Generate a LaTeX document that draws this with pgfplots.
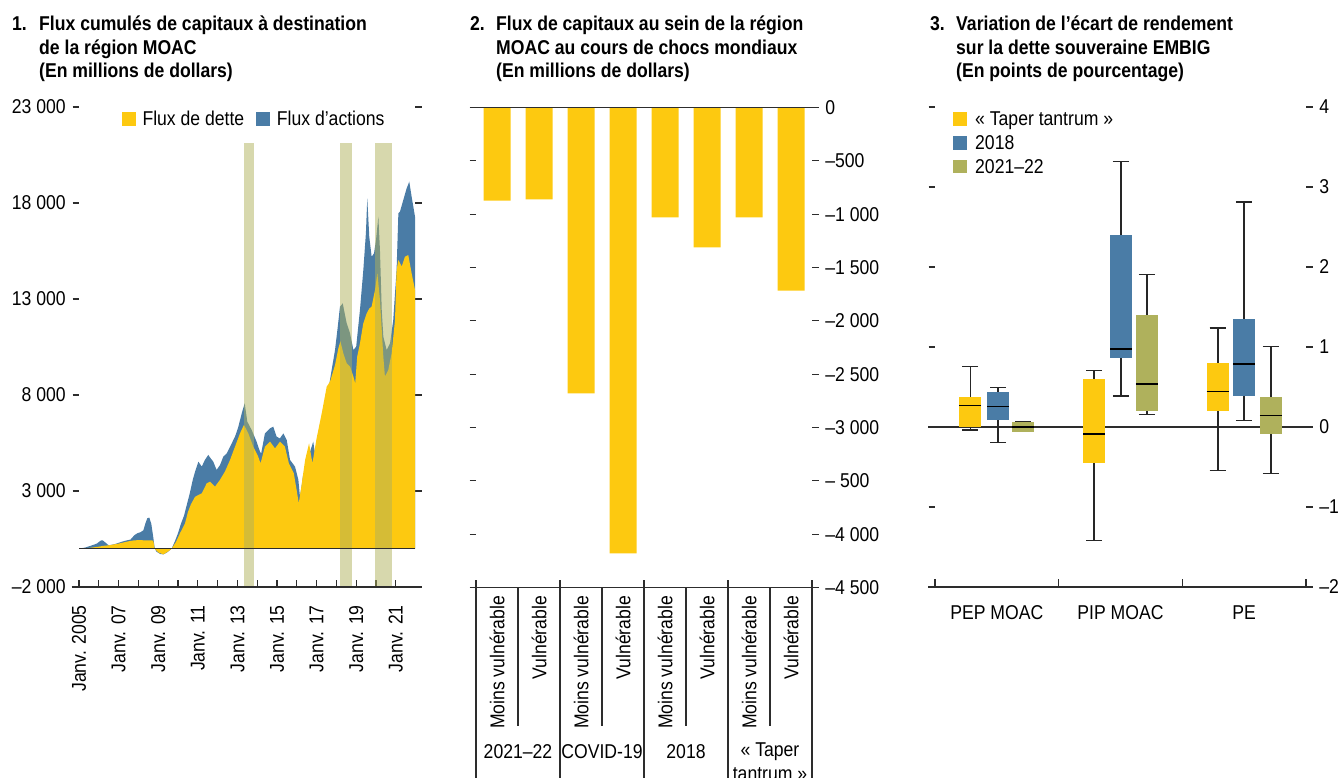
\documentclass[border=0pt]{standalone}
\usepackage{fontspec}
\setmainfont{Liberation Sans}[FakeStretch=0.88]
\usepackage{pgfplots}
\pgfplotsset{compat=1.18}
\usepgfplotslibrary{statistics}
\definecolor{myyellow}{RGB}{253,201,16}
\definecolor{myblue}{RGB}{74,124,166}
\definecolor{myolive}{RGB}{175,177,92}
\definecolor{axisgray}{RGB}{45,45,45}
\begin{document}
\fontsize{20bp}{23.3bp}\selectfont
\begin{tikzpicture}[font=\fontsize{20bp}{23.3bp}\selectfont,
  axisline/.style={draw=axisgray, line width=1.2bp}]
\path[use as bounding box] (0,0) rectangle (1339bp,778bp);
\pgfplotsset{every axis/.append style={scale only axis, anchor=south west,
  separate axis lines, axis line style={draw=none},
  scaled x ticks=false, scaled y ticks=false,
  tick align=outside, major tick length=6.5bp,
  tick style={draw=axisgray, line width=1.1bp},
  tick label style={font=\fontsize{20bp}{23.3bp}\selectfont},
  clip=false}}

% ---------- Titles ----------
\begin{scope}[every node/.style={anchor=base west, inner sep=0pt, font=\bfseries\fontsize{20bp}{23.3bp}\selectfont}]
\node at (12bp,747bp) {1.};
\node at (39bp,747bp) {Flux cumulés de capitaux à destination};
\node at (39bp,723.7bp) {de la région MOAC};
\node at (39bp,700.4bp) {(En millions de dollars)};
\node at (470bp,747bp) {2.};
\node at (496bp,747bp) {Flux de capitaux au sein de la région};
\node at (496bp,723.7bp) {MOAC au cours de chocs mondiaux};
\node at (496bp,700.4bp) {(En millions de dollars)};
\node at (930bp,747bp) {3.};
\node at (956bp,747bp) {Variation de l’écart de rendement};
\node at (956bp,723.7bp) {sur la dette souveraine EMBIG};
\node at (956bp,700.4bp) {(En points de pourcentage)};
\end{scope}

% ---------- Panel 1 ----------
\begin{axis}[at={(79bp,191bp)}, width=336bp, height=480bp,
  xmin=2005, xmax=2021.97, ymin=-2000, ymax=23000,
  ytick={-2000,3000,8000,13000,18000,23000},
  yticklabels={–2 000,3 000,8 000,13 000,18 000,23 000},
  ytick pos=both, yticklabel pos=left,
  xtick={2005,...,2021},
  xticklabels={Janv. 2005,,Janv. 07,,Janv. 09,,Janv. 11,,Janv. 13,,Janv. 15,,Janv. 17,,Janv. 19,,Janv. 21},
  xtick pos=lower, xtick style={yshift=6.5bp},
  xticklabel style={yshift=-5bp, rotate=90, anchor=east}]
\addplot[fill=myblue, draw=none] coordinates {
(2005.00,0) (2005.3,50) (2005.6,150) (2005.9,260) (2006.1,420) (2006.2,430) (2006.35,300)
(2006.5,170) (2006.8,230) (2007.0,300) (2007.3,400) (2007.6,470) (2007.8,700) (2007.95,800)
(2008.1,850) (2008.25,950) (2008.35,1300) (2008.45,1580) (2008.55,1615) (2008.65,1300)
(2008.75,600) (2008.82,50) (2008.9,-150) (2009.1,-280) (2009.26,-300) (2009.45,-200)
(2009.68,0) (2009.85,400) (2010.0,800) (2010.15,1300) (2010.3,1700) (2010.45,2300)
(2010.6,2900) (2010.75,3600) (2010.86,4000) (2011.03,4530) (2011.2,4270) (2011.35,4600)
(2011.53,4880) (2011.65,4700) (2011.78,4530) (2011.95,4100) (2012.12,4350) (2012.29,4790)
(2012.46,4960) (2012.63,5310) (2012.88,5830) (2013.05,6350) (2013.22,7050) (2013.37,7570)
(2013.5,6610) (2013.72,6180) (2013.97,5570) (2014.14,5050) (2014.2,4950) (2014.39,6000)
(2014.65,6265) (2014.81,6350) (2014.98,5830) (2015.15,5740) (2015.32,6000) (2015.49,5660)
(2015.66,4615) (2015.91,4270) (2016.08,3580) (2016.16,2700) (2016.25,3300) (2016.33,3920)
(2016.5,4090) (2016.67,5050) (2016.83,5570) (2016.92,4960) (2017.09,5660) (2017.26,6525)
(2017.42,7390) (2017.59,8260) (2017.76,9300) (2017.93,10340) (2018.07,11560) (2018.18,12600)
(2018.32,12770) (2018.52,11735) (2018.69,11210) (2018.86,10340) (2019.0,10520) (2019.19,12430)
(2019.36,14510) (2019.49,16420) (2019.56,18245) (2019.66,16245) (2019.78,15200) (2019.9,15380)
(2020.0,16070) (2020.12,17290) (2020.2,15550) (2020.29,12430) (2020.37,11040) (2020.54,10340)
(2020.71,10690) (2020.87,11900) (2021.04,14510) (2021.13,17460) (2021.21,17550) (2021.38,18160)
(2021.55,18770) (2021.68,19110) (2021.8,18330) (2021.97,17290)
} \closedcycle;
\addplot[fill=myyellow, draw=none] coordinates {
(2005.0,0) (2005.5,30) (2006.0,100) (2006.2,140) (2006.5,170) (2007.0,260) (2007.5,380)
(2007.8,430) (2008.0,440) (2008.4,430) (2008.75,420) (2008.82,0) (2009.0,-200) (2009.26,-300)
(2009.5,-150) (2009.68,0) (2009.9,350) (2010.1,800) (2010.35,1300) (2010.5,1900) (2010.65,2300)
(2010.86,2700) (2011.2,2880) (2011.45,3400) (2011.62,3490) (2011.87,3230) (2012.12,3580)
(2012.37,4010) (2012.63,4620) (2012.88,5310) (2013.13,6000) (2013.33,6440) (2013.55,6000)
(2013.8,5310) (2014.05,4790) (2014.17,4440) (2014.39,5310) (2014.65,5570) (2014.9,5220)
(2015.15,5570) (2015.4,5310) (2015.6,4440) (2015.85,3920) (2016.0,3000) (2016.1,2360)
(2016.23,3230) (2016.42,4615) (2016.62,5480) (2016.79,4440) (2017.0,5740) (2017.26,7050)
(2017.51,8435) (2017.68,8700) (2017.93,9560) (2018.1,10430) (2018.2,10800) (2018.35,10170)
(2018.52,9650) (2018.69,9480) (2018.86,8955) (2018.95,8610) (2019.05,10000) (2019.19,10690)
(2019.36,11735) (2019.53,12250) (2019.66,12500) (2019.78,12600) (2019.95,13470) (2020.07,14340)
(2020.2,12950) (2020.37,10000) (2020.45,8955) (2020.62,9300) (2020.79,10170) (2020.96,11900)
(2021.04,14510) (2021.13,15030) (2021.3,14690) (2021.46,15200) (2021.63,15290) (2021.8,14340)
(2021.97,13470)
} \closedcycle;
\addplot[fill=myolive, fill opacity=0.5, draw=none] coordinates {(2013.33,-2000) (2013.82,-2000) (2013.82,21140) (2013.33,21140)} -- cycle;
\addplot[fill=myolive, fill opacity=0.5, draw=none] coordinates {(2018.18,-2000) (2018.77,-2000) (2018.77,21140) (2018.18,21140)} -- cycle;
\addplot[fill=myolive, fill opacity=0.5, draw=none] coordinates {(2019.95,-2000) (2020.79,-2000) (2020.79,21140) (2019.95,21140)} -- cycle;
\addplot[axisline] coordinates {(2005,0) (2021.97,0)};
\draw[axisline] ([xshift=-7.3bp]axis cs:2005,-2000) -- ([xshift=6.7bp]axis cs:2021.97,-2000);
\end{axis}
% legend panel 1
\fill[myyellow] (122.3bp,652.3bp) rectangle (136bp,666.3bp);
\node[anchor=base west, inner sep=0pt] at (142.3bp,652bp) {Flux de dette};
\fill[myblue] (256bp,652.3bp) rectangle (270bp,666.3bp);
\node[anchor=base west, inner sep=0pt] at (276.7bp,652bp) {Flux d’actions};

% ---------- Panel 2 ----------
\begin{axis}[at={(476bp,190.5bp)}, width=336bp, height=480bp,
  xmin=0, xmax=8, ymin=-4500, ymax=0,
  ytick={-4500,-4000,-3500,-3000,-2500,-2000,-1500,-1000,-500,0},
  yticklabels={–4 500,–4 000,– 500,–3 000,–2 500,–2 000,–1 500,–1 000,–500,0},
  ytick pos=both, yticklabel pos=right,
  xtick={0.5,1.5,2.5,3.5,4.5,5.5,6.5,7.5},
  xticklabels={Moins vulnérable,Vulnérable,Moins vulnérable,Vulnérable,Moins vulnérable,Vulnérable,Moins vulnérable,Vulnérable},
  xtick pos=lower, xtick style={draw=none},
  xticklabel style={yshift=5bp, rotate=90, anchor=east}]
\addplot[ybar, bar width=27bp, fill=myyellow, draw=none] coordinates {
(0.5,-872) (1.5,-862) (2.5,-2681) (3.5,-4181) (4.5,-1031) (5.5,-1312) (6.5,-1031) (7.5,-1716)};
\draw[axisline] ([xshift=-6bp]axis cs:0,0) -- ([xshift=5bp]axis cs:8,0);
\draw[axisline] ([xshift=-6bp]axis cs:0,-4500) -- ([xshift=5bp]axis cs:8,-4500);
\draw[axisline] ([yshift=7bp]axis cs:0,-4500) -- ([yshift=-220bp]axis cs:0,-4500);
\draw[axisline] ([yshift=7bp]axis cs:2,-4500) -- ([yshift=-220bp]axis cs:2,-4500);
\draw[axisline] ([yshift=7bp]axis cs:4,-4500) -- ([yshift=-220bp]axis cs:4,-4500);
\draw[axisline] ([yshift=7bp]axis cs:6,-4500) -- ([yshift=-220bp]axis cs:6,-4500);
\draw[axisline] ([yshift=7bp]axis cs:8,-4500) -- ([yshift=-220bp]axis cs:8,-4500);
\draw[axisline] (axis cs:1,-4500) -- ([yshift=-138bp]axis cs:1,-4500);
\draw[axisline] (axis cs:3,-4500) -- ([yshift=-138bp]axis cs:3,-4500);
\draw[axisline] (axis cs:5,-4500) -- ([yshift=-138bp]axis cs:5,-4500);
\draw[axisline] (axis cs:7,-4500) -- ([yshift=-138bp]axis cs:7,-4500);
\node at ([yshift=-164bp]axis cs:1,-4500) {2021–22};
\node at ([yshift=-164bp]axis cs:3,-4500) {COVID-19};
\node at ([yshift=-164bp]axis cs:5,-4500) {2018};
\node at ([yshift=-164bp]axis cs:7,-4500) {«~Taper};
\node at ([yshift=-187bp]axis cs:7,-4500) {tantrum~»};
\end{axis}

% ---------- Panel 3 ----------
\begin{axis}[at={(935bp,191bp)}, width=371bp, height=480bp,
  xmin=-0.5, xmax=2.5, ymin=-2, ymax=4,
  ytick={-2,-1,0,1,2,3,4}, yticklabels={–2,–1,0,1,2,3,4},
  ytick pos=both, yticklabel pos=right,
  xtick={-0.5,0.5,1.5,2.5}, xticklabels={,,,},
  xtick pos=lower, xtick style={yshift=7.5bp}, 
  boxplot/draw direction=y,
  boxplot/box extend=0.178, boxplot/whisker extend=0.13,
  boxplot/every box/.style={draw=none},
  boxplot/every median/.style={draw=black, line width=1.4bp},
  boxplot/every whisker/.style={draw=black!85, line width=1.6bp}]
\draw[axisline] ([xshift=-7bp]axis cs:-0.5,0) -- ([xshift=7bp]axis cs:2.5,0);
\draw[axisline] ([xshift=-7bp]axis cs:-0.5,-2) -- ([xshift=7bp]axis cs:2.5,-2);
% PEP MOAC
\addplot[fill=myyellow, draw=black!85, line width=1.6bp, mark=none, boxplot prepared={draw position=-0.214, lower whisker=-0.036, lower quartile=0, median=0.268, upper quartile=0.379, upper whisker=0.758}] coordinates {};
\addplot[fill=myblue, draw=black!85, line width=1.6bp, mark=none, boxplot prepared={draw position=0.011, lower whisker=-0.192, lower quartile=0.085, median=0.254, upper quartile=0.441, upper whisker=0.495}] coordinates {};
\addplot[fill=myolive, draw=black!85, line width=1.6bp, mark=none, boxplot prepared={draw position=0.215, lower whisker=-0.058, lower quartile=-0.058, median=0, upper quartile=0.062, upper whisker=0.062}] coordinates {};
% PIP MOAC
\addplot[fill=myyellow, draw=black!85, line width=1.6bp, mark=none, boxplot prepared={draw position=0.786, lower whisker=-1.418, lower quartile=-0.450, median=-0.089, upper quartile=0.606, upper whisker=0.705}] coordinates {};
\addplot[fill=myblue, draw=black!85, line width=1.6bp, mark=none, boxplot prepared={draw position=1.004, lower whisker=0.384, lower quartile=0.861, median=0.977, upper quartile=2.404, upper whisker=3.318}] coordinates {};
\addplot[fill=myolive, draw=black!85, line width=1.6bp, mark=none, boxplot prepared={draw position=1.214, lower whisker=0.156, lower quartile=0.196, median=0.535, upper quartile=1.405, upper whisker=1.904}] coordinates {};
% PE
\addplot[fill=myyellow, draw=black!85, line width=1.6bp, mark=none, boxplot prepared={draw position=1.786, lower whisker=-0.544, lower quartile=0.196, median=0.446, upper quartile=0.794, upper whisker=1.240}] coordinates {};
\addplot[fill=myblue, draw=black!85, line width=1.6bp, mark=none, boxplot prepared={draw position=1.998, lower whisker=0.080, lower quartile=0.384, median=0.785, upper quartile=1.356, upper whisker=2.809}] coordinates {};
\addplot[fill=myolive, draw=black!85, line width=1.6bp, mark=none, boxplot prepared={draw position=2.216, lower whisker=-0.580, lower quartile=-0.089, median=0.147, upper quartile=0.379, upper whisker=1.008}] coordinates {};
\node at ([yshift=-25.5bp]axis cs:0,-2) {PEP MOAC};
\node at ([yshift=-25.5bp]axis cs:1,-2) {PIP MOAC};
\node at ([yshift=-25.5bp]axis cs:2,-2) {PE};
\end{axis}
% legend panel 3
\fill[myyellow] (953bp,652.3bp) rectangle (966.5bp,665.5bp);
\node[anchor=base west, inner sep=0pt] at (975bp,652.3bp) {« Taper tantrum »};
\fill[myblue] (953bp,628.4bp) rectangle (966.5bp,641.6bp);
\node[anchor=base west, inner sep=0pt] at (975bp,628.4bp) {2018};
\fill[myolive] (953bp,604.8bp) rectangle (966.5bp,617.6bp);
\node[anchor=base west, inner sep=0pt] at (975bp,604.8bp) {2021–22};
\end{tikzpicture}
\end{document}
